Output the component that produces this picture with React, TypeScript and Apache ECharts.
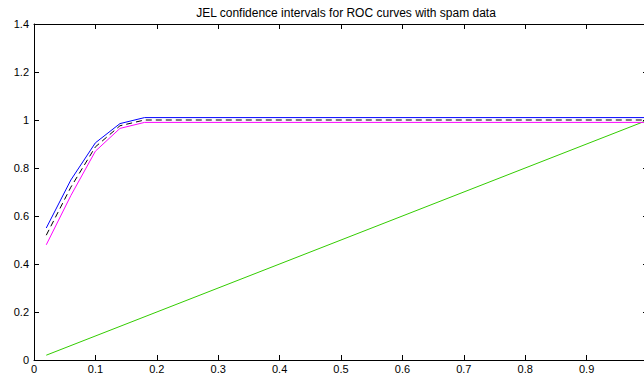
import React, { useEffect, useRef } from "react";
import * as echarts from "echarts";

const titleText = "JEL confidence intervals for ROC curves with spam data";
const fpr = [0.02, 0.06, 0.1, 0.14, 0.18, 1.0];
const upperBand = [0.55, 0.75, 0.905, 0.985, 1.01, 1.01];
const estimate = [0.52, 0.72, 0.888, 0.976, 1.0, 1.0];
const lowerBand = [0.48, 0.685, 0.87, 0.965, 0.99, 0.99];
const diagX = [0.02, 1.0];
const diagY = [0.02, 1.0];

const pairs = (xs: number[], ys: number[]) => xs.map((x, i) => [x, ys[i]]);

export default function App() {
  const ref = useRef<HTMLDivElement>(null);
  useEffect(() => {
    document.body.style.margin = "0";
    document.body.style.overflow = "hidden";
    const chart = echarts.init(ref.current!, null, { renderer: "svg" });
    const font = "Liberation Sans, Arial, sans-serif";
    const mkAxis = (extra: any) => ({
      type: "value",
      axisLine: { show: true, onZero: false, lineStyle: { color: "#000", width: 1 } },
      axisTick: { show: true, inside: true, length: 5, lineStyle: { color: "#000", width: 1 } },
      splitLine: { show: false },
      ...extra,
    });
    chart.setOption({
      animation: false,
      backgroundColor: "#fff",
      title: {
        text: titleText,
        left: 341,
        textAlign: "center",
        top: 2,
        textStyle: { fontFamily: font, fontSize: 12, fontWeight: "normal", color: "#000" },
      },
      grid: { left: 34, top: 24, width: 614, height: 336 },
      xAxis: [
        mkAxis({
          min: 0,
          max: 1,
          interval: 0.1,
          position: "bottom",
          axisLabel: { color: "#000", fontFamily: font, fontSize: 11, margin: 3, showMaxLabel: false },
        }),
        mkAxis({ min: 0, max: 1, interval: 0.1, position: "top", axisLabel: { show: false } }),
      ],
      yAxis: [
        mkAxis({
          min: 0,
          max: 1.4,
          interval: 0.2,
          position: "left",
          axisLabel: { color: "#000", fontFamily: font, fontSize: 11, margin: 5 },
        }),
        mkAxis({ min: 0, max: 1.4, interval: 0.2, position: "right", axisLabel: { show: false } }),
      ],
      series: [
        { type: "line", data: pairs(diagX, diagY), showSymbol: false, lineStyle: { color: "#33cc00", width: 1 } },
        { type: "line", data: pairs(fpr, upperBand), showSymbol: false, lineStyle: { color: "#0000ff", width: 1 } },
        { type: "line", data: pairs(fpr, lowerBand), showSymbol: false, lineStyle: { color: "#ff00ff", width: 1 } },
        {
          type: "line",
          data: pairs(fpr, estimate),
          showSymbol: false,
          lineStyle: { color: "#000", width: 1, type: [6, 4] },
        },
      ],
    });
    return () => chart.dispose();
  }, []);
  return <div ref={ref} style={{ width: 656, height: 376 }} />;
}
